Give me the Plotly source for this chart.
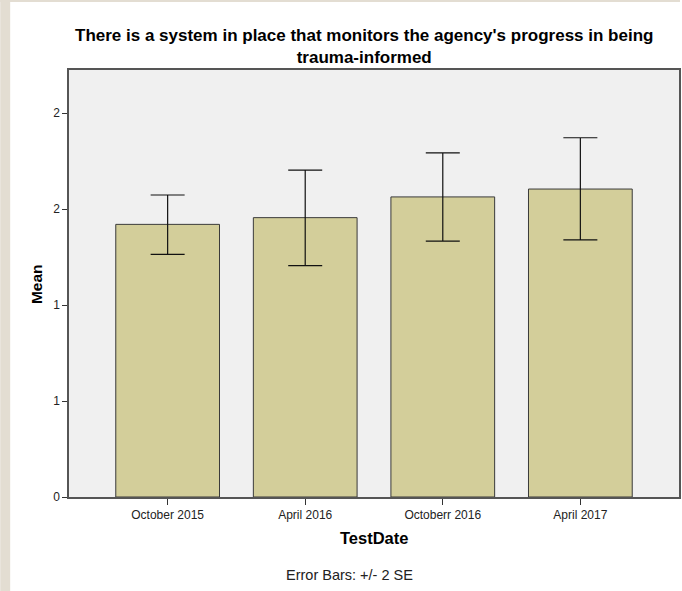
import plotly.graph_objects as go

categories = ["October 2015", "April 2016", "Octoberr 2016", "April 2017"]
means = [1.420, 1.455, 1.563, 1.604]
err_upper = [1.573, 1.703, 1.792, 1.871]
err_lower = [1.264, 1.205, 1.333, 1.339]
ytick_vals = [0, 0.5, 1.0, 1.5, 2.0]
ytick_text = ["0", "1", "1", "2", "2"]

W, H = 682, 591
L, R, T, B = 69, 1, 70, 94
pw = W - L - R
ph = H - T - B

plus = [u - m for u, m in zip(err_upper, means)]
minus = [m - l for m, l in zip(means, err_lower)]

fig = go.Figure()
fig.add_trace(go.Bar(
    x=list(range(len(categories))), y=means, width=0.754,
    marker=dict(color="#d3ce9a", line=dict(color="#3a3a3a", width=1)),
    error_y=dict(type="data", symmetric=False, array=plus, arrayminus=minus,
                 color="#111111", thickness=1.2, width=17),
    hoverinfo="skip",
))

font = "Liberation Sans, Arial, sans-serif"
fig.update_layout(
    width=W, height=H,
    margin=dict(l=L, r=R, t=T, b=B),
    paper_bgcolor="white", plot_bgcolor="#f0f0f0",
    showlegend=False,
    font=dict(family=font, color="#222222"),
    xaxis=dict(range=[-0.717, 3.717], tickvals=list(range(len(categories))), ticktext=categories,
               showgrid=False, zeroline=False, showline=True, mirror=True,
               linecolor="#555555", linewidth=1.5, ticks="outside", ticklen=6,
               tickcolor="#333333", tickfont=dict(size=12, color="#222222")),
    yaxis=dict(range=[0, 2.224], tickvals=ytick_vals, ticktext=ytick_text,
               showgrid=False, zeroline=False, showline=True, mirror=True,
               linecolor="#555555", linewidth=1.5, ticks="outside", ticklen=5,
               tickcolor="#333333", tickfont=dict(size=12, color="#222222")),
)

def px_x(x):
    return (x - L) / pw

def px_y(y):
    return (H - B - y) / ph

# beige page strips
fig.add_shape(type="rect", xref="paper", yref="paper", x0=px_x(0), x1=px_x(10),
              y0=px_y(H), y1=px_y(0), fillcolor="#e3ddd2", line=dict(width=0), layer="below")
fig.add_shape(type="rect", xref="paper", yref="paper", x0=px_x(0), x1=px_x(W),
              y0=px_y(2), y1=px_y(0), fillcolor="#e3ddd2", line=dict(width=0), layer="below")

fig.add_annotation(text="<b>There is a system in place that monitors the agency's progress in being<br>trauma-informed</b>",
                   xref="paper", yref="paper", x=px_x(365), y=px_y(47), xanchor="center", yanchor="middle",
                   showarrow=False, align="center", font=dict(size=17, family=font, color="#000000"))
fig.add_annotation(text="<b>Mean</b>", xref="paper", yref="paper", x=px_x(36), y=px_y(284),
                   xanchor="center", yanchor="middle", textangle=-90, showarrow=False,
                   font=dict(size=15.5, family=font, color="#000000"))
fig.add_annotation(text="<b>TestDate</b>", xref="paper", yref="paper", x=px_x(375), y=px_y(538),
                   xanchor="center", yanchor="middle", showarrow=False,
                   font=dict(size=16.5, family=font, color="#000000"))
fig.add_annotation(text="Error Bars: +/- 2 SE", xref="paper", yref="paper", x=px_x(350), y=px_y(575),
                   xanchor="center", yanchor="middle", showarrow=False,
                   font=dict(size=14.5, family=font, color="#222222"))

fig.write_html("out.html", config={"displayModeBar": False},
               post_script="document.body.style.margin='0px';")
